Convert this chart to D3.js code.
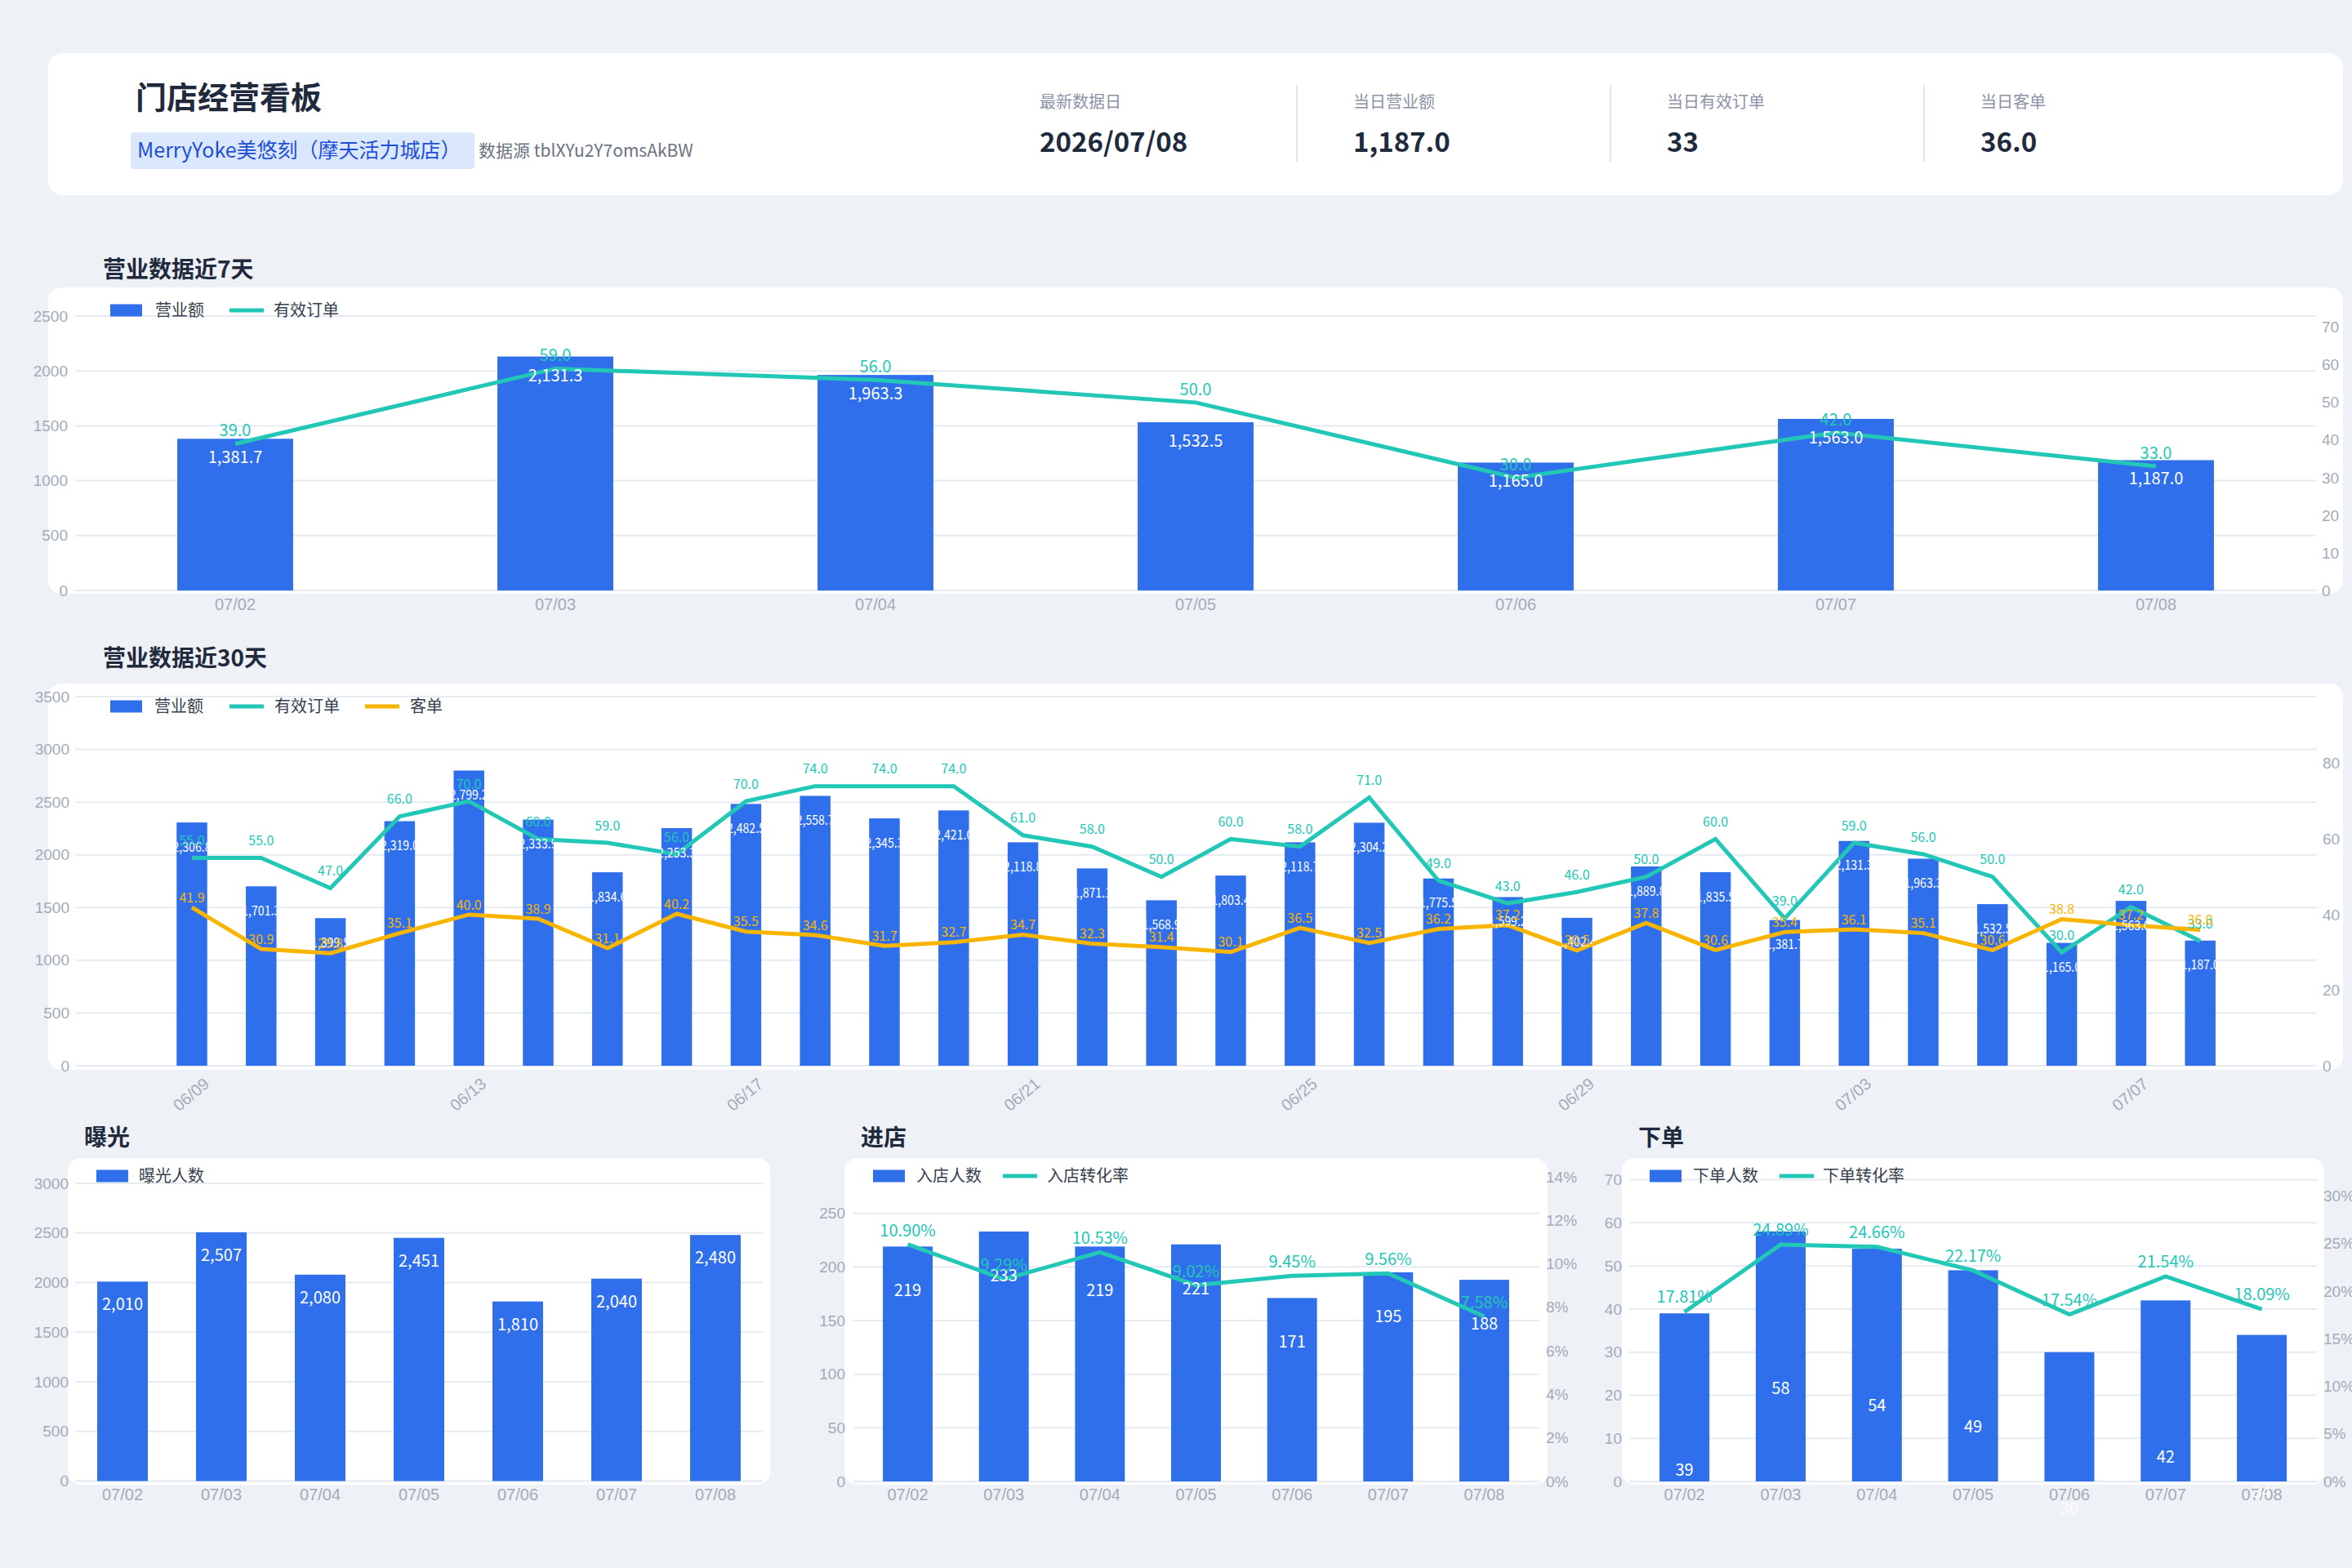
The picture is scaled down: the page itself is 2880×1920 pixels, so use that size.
<!DOCTYPE html>
<html>
<head>
<meta charset="utf-8">
<script src="https://cdn.jsdelivr.net/npm/d3@7"></script>
<style>
  html, body { margin: 0; padding: 0; background: #eef1f6; }
  svg { display: block; font-family: "Noto Sans CJK SC", "Noto Sans", sans-serif; }
</style>
</head>
<body>
<div id="board"></div>
<script>
// ---- header data ----
const boardTitle = '门店经营看板';
const storeName = 'MerryYoke美悠刻（摩天活力城店）';
const sourceText = '数据源 tblXYu2Y7omsAkBW';
const kpiLabels = ['最新数据日', '当日营业额', '当日有效订单', '当日客单'];
const kpiValues = ['2026/07/08', '1,187.0', '33', '36.0'];

// ---- last 7 days ----
const days7 = ['07/02', '07/03', '07/04', '07/05', '07/06', '07/07', '07/08'];
const revenue7 = [1381.7, 2131.3, 1963.3, 1532.5, 1165.0, 1563.0, 1187.0];
const orders7 = [39, 59, 56, 50, 30, 42, 33];

// ---- last 30 days ----
const days30 = ['06/09', '06/10', '06/11', '06/12', '06/13', '06/14', '06/15', '06/16', '06/17', '06/18',
  '06/19', '06/20', '06/21', '06/22', '06/23', '06/24', '06/25', '06/26', '06/27', '06/28',
  '06/29', '06/30', '07/01', '07/02', '07/03', '07/04', '07/05', '07/06', '07/07', '07/08'];
const revenue30 = [2306.8, 1701.3, 1399.5, 2319.0, 2799.2, 2333.9, 1834.6, 2253.3, 2482.5, 2558.7,
  2345.3, 2421.0, 2118.8, 1871.1, 1568.9, 1803.4, 2118.7, 2304.2, 1775.5, 1599.2,
  1402.4, 1889.8, 1835.5, 1381.7, 2131.3, 1963.3, 1532.5, 1165.0, 1563.0, 1187.0];
const orders30 = [55, 55, 47, 66, 70, 60, 59, 56, 70, 74,
  74, 74, 61, 58, 50, 60, 58, 71, 49, 43,
  46, 50, 60, 39, 59, 56, 50, 30, 42, 33];
const ticket30 = [41.9, 30.9, 29.8, 35.1, 40.0, 38.9, 31.1, 40.2, 35.5, 34.6,
  31.7, 32.7, 34.7, 32.3, 31.4, 30.1, 36.5, 32.5, 36.2, 37.2,
  30.5, 37.8, 30.6, 35.4, 36.1, 35.1, 30.6, 38.8, 37.2, 36.0];

// ---- funnel (last 7 days) ----
const exposure = [2010, 2507, 2080, 2451, 1810, 2040, 2480];
const visitors = [219, 233, 219, 221, 171, 195, 188];
const visitRate = [10.90, 9.29, 10.53, 9.02, 9.45, 9.56, 7.58];
const buyers = [39, 58, 54, 49, 30, 42, 34];
const buyRate = [17.81, 24.89, 24.66, 22.17, 17.54, 21.54, 18.09];

const W = 2880, H = 1920;
const BLUE = '#306fec', TEAL = '#22c7b6', ORANGE = '#f7b500';
const GRID = '#e6ebf2', AXIS = '#a3abb9', INK = '#1f2a3d', LEGEND_INK = '#373f4d';

const svg = d3.select('#board').append('svg').attr('width', W).attr('height', H);
svg.append('rect').attr('width', W).attr('height', H).attr('fill', '#eef1f6');
const defs = svg.append('defs');

function card(x, y, w, h, r = 16) {
  svg.append('rect')
    .attr('x', x).attr('y', y).attr('width', w).attr('height', h)
    .attr('rx', r).attr('fill', '#fff');
}

function sectionTitle(text, x, y) {
  svg.append('text')
    .attr('x', x).attr('y', y).attr('dy', '0.35em')
    .attr('font-size', 28).attr('font-weight', 700).attr('fill', INK)
    .text(text);
}

const fmt1 = d3.format(',.1f');
const fmtInt = d3.format(',d');
const fmtPct = d => d.toFixed(2) + '%';

// ---------------- header ----------------
card(59, 65, 2810, 174, 18);
svg.append('text').attr('x', 166).attr('y', 120).attr('dy', '0.35em')
  .attr('font-size', 38).attr('font-weight', 700).attr('fill', INK).text(boardTitle);
svg.append('rect').attr('x', 160).attr('y', 162).attr('width', 421).attr('height', 45)
  .attr('rx', 4).attr('fill', '#dbe7fd');
svg.append('text').attr('x', 168).attr('y', 184).attr('dy', '0.35em')
  .attr('font-size', 25).attr('fill', '#1e4fd8').text(storeName);
svg.append('text').attr('x', 586).attr('y', 185).attr('dy', '0.35em')
  .attr('font-size', 21).attr('fill', '#6b7280').text(sourceText);

const kpiX = d3.scaleLinear().domain([0, 1]).range([1273, 1657]);
const kpi = svg.append('g').selectAll('g').data(kpiLabels).join('g')
  .attr('transform', (d, i) => `translate(${kpiX(i)},0)`);
kpi.filter((d, i) => i > 0).append('line')
  .attr('x1', -69).attr('x2', -69).attr('y1', 104).attr('y2', 198)
  .attr('stroke', '#e2e7ef').attr('stroke-width', 2);
kpi.append('text').attr('y', 125).attr('dy', '0.35em')
  .attr('font-size', 20).attr('fill', '#8b93a5').text(d => d);
kpi.append('text').attr('y', 174).attr('dy', '0.35em')
  .attr('font-size', 33).attr('font-weight', 700).attr('fill', INK)
  .text((d, i) => kpiValues[i]);

// ---------------- combo chart helper ----------------
function drawCombo(c) {
  const g = svg.append('g');
  const x = d3.scaleBand().domain(c.cats).range(c.band)
    .paddingInner(1 - c.barRatio).paddingOuter((1 - c.barRatio) / 2);
  const cx = d => x(d) + x.bandwidth() / 2;
  const yL = d3.scaleLinear().domain(c.leftDomain).range([c.bottom, c.top]);

  // grid
  g.append('g').selectAll('line').data(c.leftTicks).join('line')
    .attr('x1', c.gridX[0]).attr('x2', c.gridX[1])
    .attr('y1', d => yL(d)).attr('y2', d => yL(d))
    .attr('stroke', GRID).attr('stroke-width', 2);

  // left axis labels
  g.append('g').attr('transform', `translate(${c.leftLabelX},0)`)
    .call(d3.axisLeft(yL).tickValues(c.leftTicks).tickSize(0).tickPadding(0).tickFormat(d3.format('d')))
    .call(a => a.select('.domain').remove())
    .selectAll('text').attr('font-size', 19).attr('fill', AXIS).attr('font-family', null);

  // right axis
  let yR = null;
  if (c.rightDomain) {
    yR = d3.scaleLinear().domain(c.rightDomain).range([c.bottom, c.top]);
    g.append('g').attr('transform', `translate(${c.rightLabelX},0)`)
      .call(d3.axisRight(yR).tickValues(c.rightTicks).tickSize(0).tickPadding(0).tickFormat(c.rightFmt))
      .call(a => a.select('.domain').remove())
      .selectAll('text').attr('font-size', 19).attr('fill', AXIS).attr('font-family', null);
  }

  // x axis labels
  const xa = g.append('g').attr('transform', `translate(0,${c.xLabelY})`)
    .call(d3.axisBottom(x).tickValues(c.xTicks || c.cats).tickSize(0).tickPadding(0))
    .call(a => a.select('.domain').remove());
  xa.selectAll('text').attr('y', 0).attr('dy', '0.35em')
    .attr('font-size', c.xFont || 20).attr('fill', AXIS).attr('font-family', null);
  if (c.xRotate) {
    xa.selectAll('text').attr('text-anchor', 'end')
      .attr('transform', `translate(${c.xShift},0) rotate(${c.xRotate})`);
  }

  // bars
  const rows = c.cats.map((cat, i) => ({ cat, v: c.bars.values[i], i }));
  g.append('g').selectAll('rect').data(rows).join('rect')
    .attr('x', d => x(d.cat)).attr('width', x.bandwidth())
    .attr('y', d => yL(d.v)).attr('height', d => yL(0) - yL(d.v))
    .attr('fill', BLUE);

  if (c.clipLabels) {
    defs.selectAll(null).data(rows).join('clipPath')
      .attr('id', d => `${c.id}-clip-${d.i}`)
      .append('rect')
      .attr('x', d => x(d.cat)).attr('width', x.bandwidth())
      .attr('y', d => yL(d.v)).attr('height', d => yL(0) - yL(d.v));
  }

  // lines
  (c.lines || []).forEach(ln => {
    const pts = c.cats.map((cat, i) => ({ cat, v: ln.values[i] }));
    g.append('path').datum(pts)
      .attr('fill', 'none').attr('stroke', ln.color).attr('stroke-width', 5)
      .attr('stroke-linejoin', 'miter')
      .attr('d', d3.line().x(d => cx(d.cat)).y(d => yR(d.v)));
  });

  // bar labels
  const bl = g.append('g').selectAll('text').data(rows).join('text')
    .attr('x', d => cx(d.cat)).attr('y', d => yL(d.v) + c.bars.labelOffset)
    .attr('dy', '0.35em').attr('text-anchor', 'middle')
    .attr('font-size', c.bars.fontSize).attr('fill', '#fff')
    .text(d => c.bars.fmt(d.v));
  if (c.bars.squeeze) {
    // narrow labels, as the small bars in the reference show them
    bl.attr('lengthAdjust', 'spacingAndGlyphs')
      .attr('textLength', d => c.bars.fmt(d.v).length * c.bars.fontSize * c.bars.squeeze);
  }
  if (c.clipLabels) bl.attr('clip-path', d => `url(#${c.id}-clip-${d.i})`);

  // line labels
  (c.lines || []).forEach(ln => {
    const pts = c.cats.map((cat, i) => ({ cat, v: ln.values[i] }));
    g.append('g').selectAll('text').data(pts).join('text')
      .attr('x', d => cx(d.cat)).attr('y', d => yR(d.v) - ln.labelDy)
      .attr('dy', '0.35em').attr('text-anchor', 'middle')
      .attr('font-size', ln.fontSize).attr('fill', ln.color)
      .text(d => ln.fmt(d.v));
  });

  // legend
  const lg = g.append('g');
  c.legend.forEach(item => {
    if (item.type === 'bar') {
      lg.append('rect').attr('x', item.x).attr('y', c.legendY - 7.5)
        .attr('width', 39).attr('height', 15).attr('fill', BLUE);
    } else {
      lg.append('line').attr('x1', item.x).attr('x2', item.x + 42)
        .attr('y1', c.legendY).attr('y2', c.legendY)
        .attr('stroke', item.color).attr('stroke-width', 5);
    }
    lg.append('text').attr('x', item.textX).attr('y', c.legendY).attr('dy', '0.35em')
      .attr('font-size', 20).attr('fill', LEGEND_INK).text(item.name);
  });
}

// ---------------- 营业数据近7天 ----------------
sectionTitle('营业数据近7天', 126, 330);
card(59, 352, 2810, 375);
drawCombo({
  id: 'c7', cats: days7, band: [92, 2836], barRatio: 0.362,
  top: 387, bottom: 723, gridX: [92, 2836],
  leftDomain: [0, 2500], leftTicks: [0, 500, 1000, 1500, 2000, 2500], leftLabelX: 83,
  rightDomain: [0, 73], rightTicks: [0, 10, 20, 30, 40, 50, 60, 70], rightLabelX: 2843, rightFmt: d3.format('d'),
  xLabelY: 740,
  bars: { values: revenue7, fmt: fmt1, labelOffset: 23, fontSize: 20 },
  lines: [{ values: orders7, color: TEAL, fmt: fmt1, labelDy: 16, fontSize: 20 }],
  legendY: 380,
  legend: [
    { type: 'bar', name: '营业额', x: 135, textX: 190 },
    { type: 'line', name: '有效订单', color: TEAL, x: 281, textX: 335 }
  ]
});

// ---------------- 营业数据近30天 ----------------
sectionTitle('营业数据近30天', 126, 806);
card(59, 837, 2810, 473);
drawCombo({
  id: 'c30', cats: days30, band: [192.6, 2736.6], barRatio: 0.442,
  top: 853, bottom: 1305, gridX: [92, 2837],
  leftDomain: [0, 3500], leftTicks: [0, 500, 1000, 1500, 2000, 2500, 3000, 3500], leftLabelX: 85,
  rightDomain: [0, 97.7], rightTicks: [0, 20, 40, 60, 80], rightLabelX: 2844, rightFmt: d3.format('d'),
  xLabelY: 1324, xTicks: days30.filter((d, i) => i % 4 === 0), xRotate: -40, xShift: 18,
  clipLabels: true,
  bars: { values: revenue30, fmt: fmt1, labelOffset: 30, fontSize: 16, squeeze: 0.42 },
  lines: [
    { values: orders30, color: TEAL, fmt: fmt1, labelDy: 21, fontSize: 16 },
    { values: ticket30, color: ORANGE, fmt: fmt1, labelDy: 12, fontSize: 16 }
  ],
  legendY: 865,
  legend: [
    { type: 'bar', name: '营业额', x: 135, textX: 189 },
    { type: 'line', name: '有效订单', color: TEAL, x: 281, textX: 336 },
    { type: 'line', name: '客单', color: ORANGE, x: 447, textX: 502 }
  ]
});

// ---------------- 曝光 ----------------
sectionTitle('曝光', 103, 1393);
card(83, 1418, 860, 400);
drawCombo({
  id: 'exp', cats: days7, band: [89.5, 936.5], barRatio: 0.512,
  top: 1449, bottom: 1813.6, gridX: [92, 934],
  leftDomain: [0, 3000], leftTicks: [0, 500, 1000, 1500, 2000, 2500, 3000], leftLabelX: 84,
  xLabelY: 1830,
  bars: { values: exposure, fmt: fmtInt, labelOffset: 28, fontSize: 20 },
  legendY: 1440,
  legend: [{ type: 'bar', name: '曝光人数', x: 118, textX: 170 }]
});

// ---------------- 进店 ----------------
sectionTitle('进店', 1054, 1393);
card(1034, 1418, 861, 400);
drawCombo({
  id: 'visit', cats: days7, band: [1052.7, 1876.3], barRatio: 0.518,
  top: 1441, bottom: 1814, gridX: [1045, 1885],
  leftDomain: [0, 284], leftTicks: [0, 50, 100, 150, 200, 250], leftLabelX: 1035,
  rightDomain: [0, 14], rightTicks: [0, 2, 4, 6, 8, 10, 12, 14], rightLabelX: 1893, rightFmt: d => d + '%',
  xLabelY: 1830,
  bars: { values: visitors, fmt: fmtInt, labelOffset: 54, fontSize: 20 },
  lines: [{ values: visitRate, color: TEAL, fmt: fmtPct, labelDy: 17, fontSize: 20 }],
  legendY: 1440,
  legend: [
    { type: 'bar', name: '入店人数', x: 1069, textX: 1122 },
    { type: 'line', name: '入店转化率', color: TEAL, x: 1228, textX: 1282 }
  ]
});

// ---------------- 下单 ----------------
sectionTitle('下单', 2006, 1393);
card(1986, 1418, 860, 400);
drawCombo({
  id: 'buy', cats: days7, band: [2003.7, 2828.5], barRatio: 0.518,
  top: 1444.6, bottom: 1814, gridX: [1995, 2837],
  leftDomain: [0, 70], leftTicks: [0, 10, 20, 30, 40, 50, 60, 70], leftLabelX: 1986,
  rightDomain: [0, 31.7], rightTicks: [0, 5, 10, 15, 20, 25, 30], rightLabelX: 2845, rightFmt: d => d + '%',
  xLabelY: 1830,
  bars: { values: buyers, fmt: fmtInt, labelOffset: 192, fontSize: 20 },
  lines: [{ values: buyRate, color: TEAL, fmt: fmtPct, labelDy: 18, fontSize: 20 }],
  legendY: 1440,
  legend: [
    { type: 'bar', name: '下单人数', x: 2020, textX: 2073 },
    { type: 'line', name: '下单转化率', color: TEAL, x: 2179, textX: 2232 }
  ]
});
</script>
</body>
</html>
